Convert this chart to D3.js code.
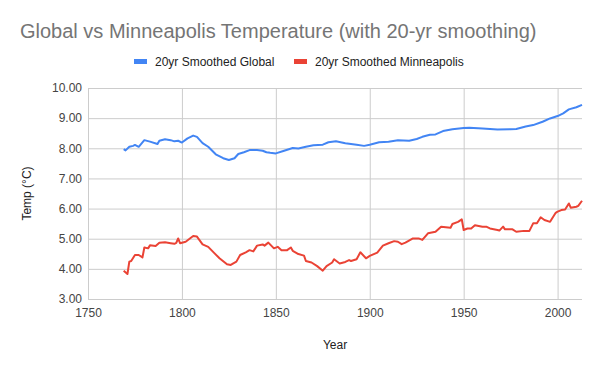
<!DOCTYPE html>
<html lang="en">
<head>
    <meta charset="UTF-8">
    <title>Global vs Minneapolis Temperature</title>
    <script src="https://cdn.jsdelivr.net/npm/d3@7/dist/d3.min.js"></script>
</head>
<style>
    body { margin: 0; background: #fff; }
    text { font-family: Arial, "Liberation Sans", sans-serif; }
</style>
<body>
</body>
<script>
    // values
    var globalYears = [1769, 1770, 1772, 1774, 1775, 1777, 1780, 1783, 1787, 1788, 1791, 1794, 1796, 1798, 1800,
        1803, 1806, 1808, 1811, 1814, 1818, 1822, 1825, 1828, 1830, 1833, 1836, 1840, 1843, 1845, 1847, 1850,
        1854, 1859, 1862, 1866, 1870, 1875, 1878, 1882, 1887, 1893, 1897, 1900, 1905, 1910, 1915, 1921, 1925,
        1928, 1932, 1935, 1939, 1944, 1950, 1953, 1960, 1968, 1975, 1978, 1983, 1987, 1992, 1996, 2000, 2003,
        2006, 2010, 2013];
    var globalTemps = [7.97, 7.93, 8.05, 8.08, 8.11, 8.05, 8.27, 8.22, 8.14, 8.25, 8.30, 8.27, 8.23, 8.25, 8.19,
        8.33, 8.42, 8.38, 8.17, 8.05, 7.80, 7.67, 7.61, 7.67, 7.81, 7.87, 7.94, 7.94, 7.92, 7.87, 7.85, 7.83,
        7.91, 8.01, 7.99, 8.05, 8.10, 8.12, 8.20, 8.23, 8.17, 8.12, 8.08, 8.12, 8.20, 8.22, 8.27, 8.25, 8.31,
        8.38, 8.45, 8.46, 8.57, 8.63, 8.67, 8.68, 8.66, 8.62, 8.63, 8.64, 8.72, 8.77, 8.88, 8.99, 9.07, 9.16,
        9.29, 9.36, 9.44];

    var mplsYears = [1769, 1771, 1772, 1773, 1775, 1777, 1779, 1780, 1782, 1783, 1786, 1788, 1791, 1794, 1796,
        1797, 1798, 1799, 1802, 1806, 1808, 1811, 1814, 1817, 1820, 1824, 1826, 1829, 1831, 1834, 1836, 1838,
        1840, 1843, 1844, 1846, 1849, 1851, 1853, 1856, 1858, 1859, 1862, 1865, 1866, 1869, 1872, 1875, 1877,
        1880, 1881, 1884, 1887, 1889, 1890, 1893, 1895, 1898, 1900, 1904, 1907, 1910, 1913, 1915, 1917, 1919,
        1923, 1926, 1928, 1931, 1935, 1938, 1943, 1944, 1947, 1949, 1950, 1952, 1954, 1956, 1960, 1962, 1964,
        1968, 1969, 1971, 1972, 1976, 1978, 1982, 1985, 1987, 1989, 1991, 1993, 1996, 1999, 2000, 2002, 2004,
        2006, 2007, 2010, 2011, 2013];
    var mplsTemps = [3.94, 3.83, 4.24, 4.26, 4.46, 4.46, 4.38, 4.71, 4.68, 4.78, 4.76, 4.87, 4.88, 4.85, 4.83,
        4.86, 5.01, 4.85, 4.90, 5.09, 5.07, 4.81, 4.73, 4.54, 4.35, 4.15, 4.13, 4.24, 4.46, 4.55, 4.62, 4.58,
        4.77, 4.81, 4.77, 4.87, 4.68, 4.73, 4.62, 4.62, 4.71, 4.60, 4.49, 4.44, 4.26, 4.21, 4.09, 3.94, 4.09,
        4.21, 4.32, 4.18, 4.23, 4.29, 4.26, 4.32, 4.55, 4.35, 4.43, 4.54, 4.77, 4.85, 4.92, 4.90, 4.82, 4.87,
        5.01, 5.01, 4.96, 5.18, 5.23, 5.40, 5.36, 5.49, 5.56, 5.64, 5.29, 5.34, 5.34, 5.45, 5.40, 5.40, 5.34,
        5.29, 5.27, 5.40, 5.31, 5.31, 5.23, 5.26, 5.26, 5.51, 5.51, 5.71, 5.62, 5.56, 5.86, 5.90, 5.95, 5.97,
        6.17, 6.03, 6.06, 6.09, 6.26];

    var xTicks = [1750, 1800, 1850, 1900, 1950, 2000];
    var yTicks = [3, 4, 5, 6, 7, 8, 9, 10];
    var seriesNames = ["20yr Smoothed Global", "20yr Smoothed Minneapolis"];
    var colors = ["#4285f4", "#ea4335"];

    var w = 600, h = 371;
    var plotLeft = 88, plotRight = 582, plotTop = 88, plotBottom = 299;

    var svg = d3.select("body").append("svg")
            .attr("width", w)
            .attr("height", h);

    var x = d3.scaleLinear().domain([1750, 2013]).range([plotLeft, plotRight]);
    var y = d3.scaleLinear().domain([3, 10]).range([plotBottom, plotTop]);

    // horizontal grid + y labels
    svg.append("g")
            .attr("transform", "translate(" + plotLeft + ",0)")
            .call(d3.axisLeft(y).tickValues(yTicks).tickSize(-(plotRight - plotLeft)).tickPadding(6)
                .tickFormat(d3.format(".2f")))
            .call(function (g) {
                g.select(".domain").remove();
                g.selectAll(".tick line").attr("stroke", "#cccccc");
                g.selectAll(".tick text").attr("fill", "#444").attr("font-size", "12px");
            });

    // vertical grid + x labels
    svg.append("g")
            .attr("transform", "translate(0," + plotBottom + ")")
            .call(d3.axisBottom(x).tickValues(xTicks).tickSize(-(plotBottom - plotTop)).tickPadding(9)
                .tickFormat(d3.format("d")))
            .call(function (g) {
                g.select(".domain").remove();
                g.selectAll(".tick line").attr("stroke", "#cccccc");
                g.selectAll(".tick text").attr("fill", "#444").attr("font-size", "12px");
            });

    var line = d3.line()
            .x(function (d) { return x(d[0]); })
            .y(function (d) { return y(d[1]); });

    var series = [d3.zip(globalYears, globalTemps), d3.zip(mplsYears, mplsTemps)];

    svg.selectAll("path.series")
            .data(series)
            .enter()
            .append("path")
            .attr("class", "series")
            .attr("d", line)
            .attr("fill", "none")
            .attr("stroke", function (d, i) { return colors[i]; })
            .attr("stroke-width", 2)
            .attr("stroke-linejoin", "round");

    // title
    svg.append("text")
            .text("Global vs Minneapolis Temperature (with 20-yr smoothing)")
            .attr("x", 20)
            .attr("y", 38)
            .attr("font-size", "20px")
            .attr("fill", "#757575");

    // legend
    var legendX = [134, 294];
    var legend = svg.selectAll("g.legend")
            .data(seriesNames)
            .enter()
            .append("g")
            .attr("class", "legend")
            .attr("transform", function (d, i) { return "translate(" + legendX[i] + ",61)"; });
    legend.append("rect")
            .attr("x", 0).attr("y", -2)
            .attr("width", 13).attr("height", 5)
            .attr("fill", function (d, i) { return colors[i]; });
    legend.append("text")
            .text(function (d) { return d; })
            .attr("x", 21)
            .attr("y", 5)
            .attr("font-size", "12px")
            .attr("fill", "#222");

    // axis titles
    svg.append("text")
            .text("Year")
            .attr("x", (plotLeft + plotRight) / 2)
            .attr("y", 349)
            .attr("text-anchor", "middle")
            .attr("font-size", "12px")
            .attr("fill", "#222");

    svg.append("text")
            .text("Temp (°C)")
            .attr("transform", "translate(31," + ((plotTop + plotBottom) / 2) + ") rotate(-90)")
            .attr("text-anchor", "middle")
            .attr("font-size", "12px")
            .attr("fill", "#222");
</script>
</html>
